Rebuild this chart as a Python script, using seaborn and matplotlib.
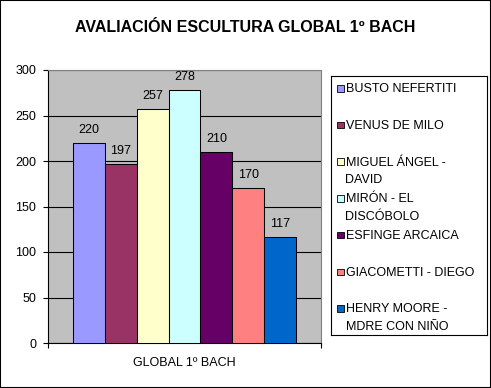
import matplotlib
matplotlib.use("Agg")
import matplotlib.pyplot as plt
import seaborn as sns
import pandas as pd
from matplotlib.patches import Rectangle

# ---- data ----
group_label = "GLOBAL 1º BACH"
categories = ["BUSTO NEFERTITI", "VENUS DE MILO", "MIGUEL ÁNGEL - DAVID",
              "MIRÓN - EL DISCÓBOLO", "ESFINGE ARCAICA", "GIACOMETTI - DIEGO",
              "HENRY MOORE - MDRE CON NIÑO"]
legend_labels = ["BUSTO NEFERTITI", "VENUS DE MILO", "MIGUEL ÁNGEL -\nDAVID",
                 "MIRÓN - EL\nDISCÓBOLO", "ESFINGE ARCAICA", "GIACOMETTI - DIEGO",
                 "HENRY MOORE -\nMDRE CON NIÑO"]
values = [220, 197, 257, 278, 210, 170, 117]
colors = ["#9999FF", "#993366", "#FFFFCC", "#CCFFFF", "#660066", "#FF8080", "#0066CC"]
yticks = [0, 50, 100, 150, 200, 250, 300]
title = "AVALIACIÓN ESCULTURA GLOBAL 1º BACH"

sns.set_theme(style="white")
plt.rcParams["font.family"] = ["Liberation Sans", "DejaVu Sans"]

W, H = 491, 388
fig = plt.figure(figsize=(W / 100, H / 100), dpi=100)
fig.patch.set_facecolor("white")

def fx(px):
    return px / W

def fy(py):
    return 1 - py / H

ax = fig.add_axes([fx(48), fy(343), fx(321) - fx(48), fy(70) - fy(343)])
ax.set_facecolor("#C0C0C0")

df = pd.DataFrame({"grupo": [group_label] * len(categories),
                   "obra": categories, "valor": values})
sns.barplot(data=df, x="grupo", y="valor", hue="obra", hue_order=categories,
            palette=colors, saturation=1, width=0.82, edgecolor="black",
            linewidth=0.75, legend=False, ax=ax, zorder=3)

for cont in ax.containers:
    ax.bar_label(cont, fmt="%d", padding=5, fontsize=9, color="black")

ax.set_ylim(0, 300)
ax.set_xlim(-0.5, 0.5)
ax.set_yticks(yticks)
ax.yaxis.grid(True, color="black", linewidth=0.8, zorder=0)
ax.set_axisbelow(True)
ax.set_xlabel("")
ax.set_ylabel("")
ax.tick_params(axis="y", which="major", direction="out", length=3.5, width=0.8,
               color="black", labelsize=9, pad=5, left=True, labelcolor="black")
ax.set_xticks([0])
ax.set_xticklabels([group_label])
ax.set_xticks([-0.5, 0.5], minor=True)
ax.tick_params(axis="x", which="major", length=0, labelsize=9, pad=10, labelcolor="black")
ax.tick_params(axis="x", which="minor", direction="out", length=3.5, width=0.8,
               color="black", bottom=True)
for side in ["left", "bottom"]:
    ax.spines[side].set_color("black")
    ax.spines[side].set_linewidth(0.8)
for side in ["top", "right"]:
    ax.spines[side].set_color("#808080")
    ax.spines[side].set_linewidth(0.8)
    ax.spines[side].set_visible(True)

# title
fig.text(0.5, fy(28), title, ha="center", va="center", fontsize=11.5,
         fontweight="bold", color="black")

# legend (manual, Excel-style layout)
lx0, lx1, ly0, ly1 = 331, 487, 76, 335
lax = fig.add_axes([fx(lx0), fy(ly1), fx(lx1) - fx(lx0), fy(ly0) - fy(ly1)])
lax.set_xlim(0, lx1 - lx0)
lax.set_ylim(ly1 - ly0, 0)
lax.set_xticks([])
lax.set_yticks([])
lax.set_facecolor("white")
for s in lax.spines.values():
    s.set_color("black")
    s.set_linewidth(0.8)
for i, (lab, c) in enumerate(zip(legend_labels, colors)):
    yc = 12 + i * 36.7
    lax.add_patch(Rectangle((6, yc - 3), 6.5, 6.5, facecolor=c, edgecolor="black",
                            linewidth=0.6))
    lax.text(14.5, yc - 4.8, lab, ha="left", va="top", fontsize=9,
             color="black", linespacing=1.65)

# figure border
fig.patches.append(Rectangle((0, 0), 1, 1, transform=fig.transFigure, fill=False,
                             edgecolor="black", linewidth=1.5, zorder=10))

fig.savefig("out.png", dpi=100, facecolor="white")
